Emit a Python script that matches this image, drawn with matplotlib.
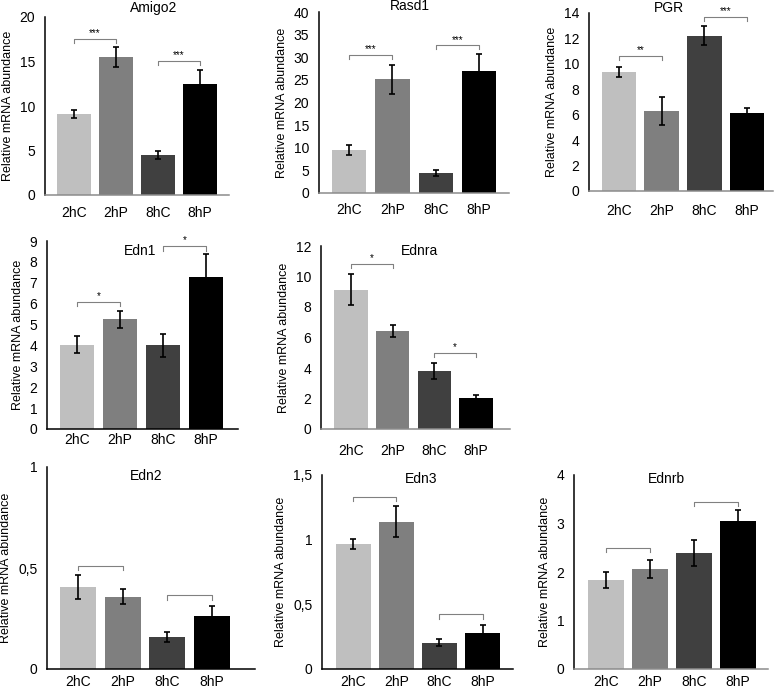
import matplotlib.pyplot as plt
import numpy as np

plt.rcParams['font.family'] = ['Liberation Sans', 'DejaVu Sans']

groups = ['2hC', '2hP', '8hC', '8hP']
bar_colors = ['#bfbfbf', '#7f7f7f', '#404040', '#000000']

# средние и ошибки
amigo2 = [9.1, 15.5, 4.5, 12.5]
amigo2_err = [0.5, 1.1, 0.45, 1.55]
rasd1 = [9.5, 25.1, 4.4, 27.0]
rasd1_err = [1.1, 3.2, 0.6, 3.8]
pgr = [9.35, 6.3, 12.2, 6.15]
pgr_err = [0.42, 1.1, 0.75, 0.35]
edn1 = [4.03, 5.25, 4.0, 7.26]
edn1_err = [0.4, 0.42, 0.55, 1.1]
ednra = [9.14, 6.41, 3.78, 2.03]
ednra_err = [1.0, 0.38, 0.53, 0.2]
edn2 = [0.407, 0.358, 0.157, 0.26]
edn2_err = [0.06, 0.037, 0.024, 0.05]
edn3 = [0.969, 1.139, 0.204, 0.281]
edn3_err = [0.038, 0.12, 0.025, 0.062]
ednrb = [1.83, 2.06, 2.39, 3.05]
ednrb_err = [0.16, 0.18, 0.27, 0.22]

# скобки значимости: (i, j, высота, подпись)
amigo2_sig = [(0, 1, 17.5, '***'), (2, 3, 15.05, '***')]
rasd1_sig = [(0, 1, 30.4, '***'), (2, 3, 32.6, '***')]
pgr_sig = [(0, 1, 10.6, '**'), (2, 3, 13.7, '***')]
edn1_sig = [(0, 1, 6.1, '*'), (2, 3, 8.74, '*')]
ednra_sig = [(0, 1, 10.8, '*'), (2, 3, 5.0, '*')]
edn2_sig = [(0, 1, 0.512, ''), (2, 3, 0.365, '')]
edn3_sig = [(0, 1, 1.33, ''), (2, 3, 0.423, '')]
ednrb_sig = [(0, 1, 2.5, ''), (2, 3, 3.44, '')]

W, H = 776, 688

# панели: имя, данные, ошибки, скобки, ymax, шаг тиков,
# рамка осей в пикселях (left, right, top, bottom), центр 1-го столбца, шаг, ширина,
# положение заголовка, цвет оси x, отступ подписей x
panels = [
    ('Amigo2', amigo2, amigo2_err, amigo2_sig, 20, 5, (45, 229, 17, 195), 74, 42, 34, (154, 8), '#8c8c8c', 8),
    ('Rasd1', rasd1, rasd1_err, rasd1_sig, 40, 5, (319, 509, 12, 193), 349, 43.4, 34.5, (410, 6), '#8c8c8c', 7.2),
    ('PGR', pgr, pgr_err, pgr_sig, 14, 2, (589, 773, 13, 191), 619, 42.7, 34.5, (669, 8), '#8c8c8c', 9.4),
    ('Edn1', edn1, edn1_err, edn1_sig, 9, 1, (47, 238, 241, 429), 77, 43, 34.5, (140, 251), '#000000', 3),
    ('Ednra', ednra, ednra_err, ednra_sig, 12, 2, (321, 510, 246, 429), 351, 41.7, 33.5, (420, 251), '#8c8c8c', 10.8),
    ('Edn2', edn2, edn2_err, edn2_sig, 1, 0.5, (47, 255, 467, 669), 78, 44.5, 36, (146, 476), '#000000', 4.3),
    ('Edn3', edn3, edn3_err, edn3_sig, 1.5, 0.5, (322, 513, 475, 669), 353, 43.2, 35, (421, 479), '#000000', 4.3),
    ('Ednrb', ednrb, ednrb_err, ednrb_sig, 4, 1, (574, 768, 475, 669), 606, 43.9, 36, (666, 479), '#8c8c8c', 4.3),
]


def fmt(v):
    s = f'{v:g}'
    return s.replace('.', ',')


fig = plt.figure(figsize=(W / 100, H / 100), dpi=100)

for name, vals, errs, sigs, ymax, step, box, c0, sp, bw, tpos, xcol, xpad in panels:
    left, right, top, bottom = box
    ax = fig.add_axes([left / W, 1 - bottom / H, (right - left) / W, (bottom - top) / H])
    x = np.arange(len(groups))
    ax.bar(x, vals, width=bw / sp, color=bar_colors, zorder=2)
    ax.errorbar(x, vals, yerr=errs, fmt='none', ecolor='black', elinewidth=1.2,
                capsize=2.2, capthick=1.2, zorder=3)

    d = ymax * 0.022
    for i, j, h, lab in sigs:
        ax.plot([i, i, j, j], [h - d, h, h, h - d], color='#808080', lw=0.8, zorder=4)
        if lab:
            ax.text((i + j) / 2, h + ymax * 0.005, lab, ha='center', va='bottom', fontsize=7)

    ax.set_xlim((left - c0) / sp, (right - c0) / sp)
    ax.set_ylim(0, ymax)
    ticks = np.arange(0, ymax + step / 2, step)
    ax.set_yticks(ticks)
    ax.set_yticklabels([fmt(t) for t in ticks])
    ax.set_xticks(x)
    ax.set_xticklabels(groups)
    ax.tick_params(length=0, labelsize=10)
    ax.tick_params(axis='y', pad=7)
    ax.tick_params(axis='x', pad=xpad)
    ax.spines['top'].set_visible(False)
    ax.spines['right'].set_visible(False)
    ax.spines['left'].set_linewidth(1.1)
    ax.spines['bottom'].set_linewidth(1.1)
    ax.spines['bottom'].set_color(xcol)
    ax.set_ylabel('Relative mRNA abundance', fontsize=9)
    fig.text(tpos[0] / W, 1 - tpos[1] / H, name, ha='center', va='center', fontsize=10)

plt.savefig('out.png', dpi=100)
